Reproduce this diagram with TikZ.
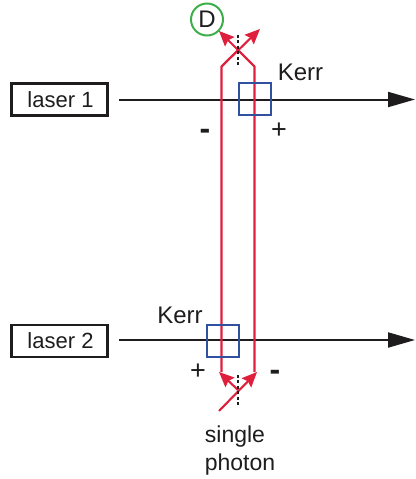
\documentclass[tikz,border=0pt]{standalone}
\usepackage{fontspec}
\setmainfont{Liberation Sans}
\usetikzlibrary{arrows.meta}
\definecolor{photon}{RGB}{222,32,60}
\definecolor{kerrblue}{RGB}{50,80,160}
\definecolor{detgreen}{RGB}{60,175,75}
\definecolor{ink}{RGB}{30,28,28}
\tikzset{
  txt/.style={font=\fontsize{22}{26}\selectfont,text=ink,inner sep=0pt},
  bigtxt/.style={txt,font=\fontsize{24}{28}\selectfont},
  captxt/.style={txt,font=\fontsize{23}{27}\selectfont},
  plustxt/.style={txt,font=\fontsize{27}{30}\selectfont},
  signtxt/.style={txt,font=\fontsize{32}{36}\selectfont\bfseries},
  laserbox/.style={draw=ink,line width=2.3pt,minimum width=96pt,minimum height=32pt,inner sep=0pt,txt},
  kerrbox/.style={draw=kerrblue,line width=2pt,minimum width=32pt,minimum height=32pt,inner sep=0pt},
  detector/.style={circle,draw=detgreen,line width=2pt,minimum size=32pt,inner sep=0pt,bigtxt},
  beam/.style={draw=ink,line width=2pt,-{Triangle[length=27pt,width=15pt]}},
  photonline/.style={draw=photon,line width=2.1pt,line join=miter},
  photonarrow/.style={photonline,-{Stealth[length=15pt,width=13pt,inset=2pt]}},
  splitter/.style={draw=ink,line width=2.4pt,dash pattern=on 3pt off 2.4pt},
}
\begin{document}
\begin{tikzpicture}[x=1pt,y=-1pt]
\useasboundingbox (0,0) rectangle (415,479);
\coordinate (beam1s) at (119,99.5);
\coordinate (beam1e) at (415,99.5);
\coordinate (beam2s) at (119,340);
\coordinate (beam2e) at (415,340);
\coordinate (cross) at (238,50);
\coordinate (topL) at (221.5,66.5);
\coordinate (topR) at (254.5,66.5);
\coordinate (botL) at (221.5,372);
\coordinate (botR) at (254.5,372);
\coordinate (tipTL) at (219,31);
\coordinate (tipTR) at (260,29);
\coordinate (botC) at (238,390);
\coordinate (inph) at (219,411);
\coordinate (tipBL) at (219,372);
\coordinate (tipBR) at (257,372);
\coordinate (dashT1) at (238,35);
\coordinate (dashT2) at (238,66);
\coordinate (dashB1) at (238,375);
\coordinate (dashB2) at (238,406);
\node[laserbox] (laser1) at (59.5,99.5) {\hspace{2pt}laser 1};
\node[laserbox] (laser2) at (59.5,341) {\hspace{2pt}laser 2};
\node[detector] (D) at (207,19.5) {D};
\draw[beam] (beam1s) -- (beam1e);
\draw[beam] (beam2s) -- (beam2e);
\draw[photonline] (botL) -- (topL) -- (cross);
\draw[photonline] (botR) -- (topR) -- (cross);
\draw[photonarrow] (topR) -- (tipTL);
\draw[photonarrow] (topL) -- (tipTR);
\draw[photonarrow] (botC) -- (tipBL);
\draw[photonarrow] (inph) -- (tipBR);
\draw[splitter] (dashT1) -- (dashT2);
\draw[splitter] (dashB1) -- (dashB2);
\node[kerrbox] (kerr1) at (254.5,98.5) {};
\node[kerrbox] (kerr2) at (222.5,340.5) {};
\node[bigtxt,anchor=base] (kerr1lab) at (300.5,80) {Kerr};
\node[bigtxt,anchor=base] (kerr2lab) at (180,323) {Kerr};
\node[signtxt,anchor=center] (minus1) at (205,134) {-};
\node[plustxt,anchor=center] (plus1) at (279,131) {+};
\node[plustxt,anchor=center] (plus2) at (198,372) {+};
\node[signtxt,anchor=center] (minus2) at (275,375) {-};
\node[captxt,anchor=base] (single) at (235,442) {single};
\node[captxt,anchor=base] (photon) at (240,470) {photon};
\end{tikzpicture}
\end{document}
